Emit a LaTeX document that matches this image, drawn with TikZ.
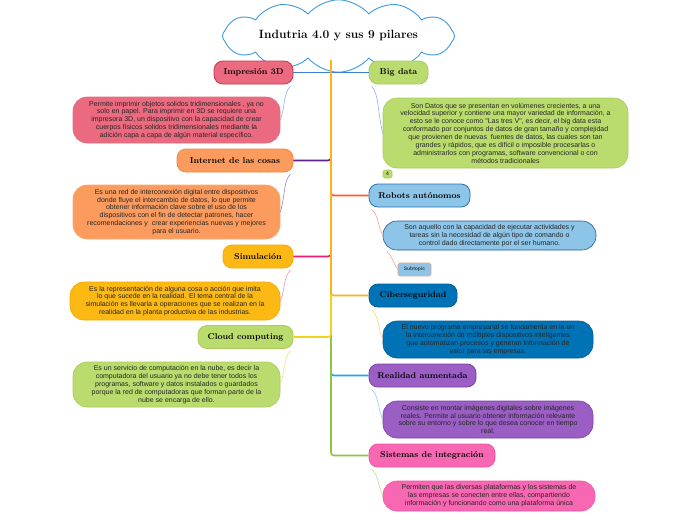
\documentclass[tikz,border=0pt]{standalone}
\usepackage{fontspec}
\newfontfamily\descfont{Liberation Sans}
\usetikzlibrary{shapes.symbols,calc}

\definecolor{impF}{HTML}{EC6A80}\definecolor{impD}{HTML}{C8374F}
\definecolor{iotF}{HTML}{FB9C5E}\definecolor{iotD}{HTML}{F5883A}
\definecolor{simF}{HTML}{FDB913}\definecolor{simD}{HTML}{F2A900}
\definecolor{cldF}{HTML}{BADC6E}\definecolor{cldD}{HTML}{A9CC5C}
\definecolor{robF}{HTML}{8CC5E8}\definecolor{robD}{HTML}{2C74B0}
\definecolor{cibF}{HTML}{0073B6}\definecolor{cibD}{HTML}{005C99}
\definecolor{reaF}{HTML}{9B5EC4}\definecolor{reaD}{HTML}{7B41A3}
\definecolor{sisF}{HTML}{F767B2}\definecolor{sisD}{HTML}{EE55A4}
\definecolor{cloudC}{HTML}{3D9BE0}

\definecolor{bBlue}{HTML}{3B7DD8}\definecolor{bPurple}{HTML}{5E2288}
\definecolor{bRed}{HTML}{FF5A26}\definecolor{bPink}{HTML}{EE1B72}
\definecolor{bAmber}{HTML}{FBB317}\definecolor{bYellow}{HTML}{F3D21E}
\definecolor{bSky}{HTML}{21A8E3}\definecolor{bGreen}{HTML}{8DC63F}

\definecolor{tBlue}{HTML}{8DB6EA}\definecolor{tPurple}{HTML}{A283C2}
\definecolor{tPink}{HTML}{F590BB}\definecolor{tYellow}{HTML}{F2E27C}
\definecolor{tSalmon}{HTML}{F6A58E}\definecolor{tAmber}{HTML}{F8D77E}
\definecolor{tSky}{HTML}{86D3F2}\definecolor{tGreen}{HTML}{BFDD88}

\tikzset{
  topic/.style={draw, line width=0.8pt, rounded corners=9pt, minimum height=23pt,
    inner sep=0pt, font=\fontsize{8.5}{10}\selectfont\bfseries, text=black},
  desc/.style={draw, line width=0.6pt, rounded corners=14pt, inner sep=0pt,
    align=center, font=\descfont\fontsize{7}{7.85}\selectfont, text=black!85},
  branch/.style={line width=1.6pt, rounded corners=3pt},
  thinlink/.style={line width=0.6pt},
  tag/.style={draw, line width=0.6pt, rounded corners=1.5pt, inner sep=0pt}
}

\begin{document}
\begin{tikzpicture}[x=1pt,y=-1pt]
\useasboundingbox[fill=white] (0,0) rectangle (696,520);

% root
\node[cloud, draw=cloudC, fill=white, line width=0.9pt, cloud puffs=12,
  cloud puff arc=100, aspect=4.8, minimum width=232pt, minimum height=46pt,
  inner sep=0pt, font=\fontsize{12}{14}\selectfont\bfseries] (root) at (338.5,36)
  {Indutria 4.0 y sus 9 pilares};
\coordinate (trunk) at (331,60);

% left topics
\node[topic, fill=impF, draw=impD, minimum width=79pt] (imp) at (253.5,72.5) {Impresión 3D};
\node[topic, fill=iotF, draw=iotD, minimum width=116pt] (iot) at (235,160.5) {Internet de las cosas};
\node[topic, fill=simF, draw=simD, minimum width=70pt] (sim) at (258,256.5) {Simulación};
\node[topic, fill=cldF, draw=cldD, minimum width=95pt] (cld) at (245.5,337) {Cloud computing};

% right topics
\node[topic, fill=cldF, draw=cldD, minimum width=59pt] (big) at (398.5,72.5) {Big data};
\node[topic, fill=robF, draw=robD, minimum width=101pt] (rob) at (419.5,195.5) {Robots autónomos};
\node[topic, fill=cibF, draw=cibD, minimum width=88pt] (cib) at (413,295.5) {Ciberseguridad};
\node[topic, fill=reaF, draw=reaD, minimum width=107pt] (rea) at (422.5,375.5) {Realidad aumentada};
\node[topic, fill=sisF, draw=sisD, minimum width=126pt] (sis) at (432,455.5) {Sistemas de integración};

% descriptions left
\node[desc, fill=impF, draw=impD!70, minimum width=207pt, minimum height=46pt] (impd) at (176.5,120)
{Permite imprimir objetos solidos tridimensionales , ya no\\
solo en papel. Para imprimir en 3D se requiere una\\
impresora 3D, un dispositivo con la capacidad de crear\\
cuerpos físicos solidos tridimensionales mediante la\\
adición capa a capa de algún material específico.};
\node[desc, fill=iotF, draw=iotD!70, minimum width=207pt, minimum height=54pt] (iotd) at (176.5,212)
{Es una red de interconexión digital entre dispositivos\\
donde fluye el intercambio de datos, lo que permite\\
obtener información clave sobre el uso de los\\
dispositivos con el fin de detectar patrones, hacer\\
recomendaciones y\ \ crear experiencias nuevas y mejores\\
para el usuario.};
\node[desc, fill=simF, draw=simD, minimum width=210pt, minimum height=38pt] (simd) at (175,301)
{Es la representación de alguna cosa o acción que imita\\
lo que sucede en la realidad. El tema central de la\\
simulación es llevarla a operaciones que se realizan en la\\
realidad en la planta productiva de las industrias.};
\node[desc, fill=cldF, draw=cldD, minimum width=207pt, minimum height=45pt] (cldd) at (176.5,384.5)
{Es un servicio de computación en la nube, es decir la\\
computadora del usuario ya no debe tener todos los\\
programas, software y datos instalados o guardados\\
porque la red de computadoras que forman parte de la\\
nube se encarga de ello.};

% descriptions right
\node[desc, fill=cldF, draw=cldD, minimum width=245pt, minimum height=70pt] (bigd) at (505.5,133)
{Son Datos que se presentan en volúmenes crecientes, a una\\
velocidad superior y contiene una mayor variedad de información, a\\
esto se le conoce como "Las tres V", es decir, el big data esta\\
conformado por conjuntos de datos de gran tamaño y complejidad\\
que provienen de nuevas\ \ fuentes de datos, las cuales son tan\\
grandes y rápidos, que es difícil o imposible procesarlas o\\
administrarlos con programas, software convencional o con\\
métodos tradicionales};
\node[tag, fill=cldF, draw=cldD, minimum width=9pt, minimum height=8pt,
  font=\descfont\fontsize{5}{5}\selectfont] (four) at (387.5,174) {4};
\node[desc, fill=robF, draw=robD!80!black, minimum width=213pt, minimum height=29pt] (robd) at (489.5,235.5)
{Son aquello con la capacidad de ejecutar actividades y\\
tareas sin la necesidad de algún tipo de comando o\\
control dado directamente por el ser humano.};
\node[tag, fill=robF, draw=tSalmon, minimum width=33pt, minimum height=13pt,
  font=\descfont\fontsize{5}{5}\selectfont\bfseries, text=black!75] (sub) at (414.5,269.5) {Subtopic};
\node[desc, fill=cibF, draw=cibD, minimum width=210pt, minimum height=37pt] (cibd) at (488,339.5)
{El nuevo programa empresarial se fundamenta en la en\\
la interconexión de múltiples dispositivos inteligentes\\
que automatizan procesos y generan información de\\
valor para las empresas.};
\node[desc, fill=reaF, draw=reaD, minimum width=210pt, minimum height=37pt] (read) at (488,419.5)
{Consiste en montar imágenes digitales sobre imágenes\\
reales. Permite al usuario obtener información relevante\\
sobre su entorno y sobre lo que desea conocer en tiempo\\
real.};
\node[desc, fill=sisF, draw=sisD, minimum width=212pt, minimum height=30pt] (sisd) at (489,496)
{Permiten que las diversas plataformas y los sistemas de\\
las empresas se conecten entre ellas, compartiendo\\
información y funcionando como una plataforma única};

% branches
\draw[branch, bBlue] (imp.east) -- (big.west);
\draw[branch, bBlue] (trunk) -- (trunk |- imp.east);
\draw[branch, bPurple] (trunk) |- (iot.east);
\draw[branch, bPink] (trunk) |- (sim.east);
\draw[branch, bRed] (trunk) |- (rob.west);
\draw[branch, bSky] (trunk) |- (rea.west);
\draw[branch, bGreen] (trunk) |- (sis.west);
\draw[branch, bYellow] (trunk) |- (cld.east);
\draw[branch, bAmber] (trunk) |- (cib.west);

% description links left
\draw[thinlink, tBlue] ($(imp.south east)+(-3,2)$) .. controls +(-7,6) and +(5,-14) .. (impd.east);
\draw[thinlink, tPurple] ($(iot.south east)+(-3,2)$) .. controls +(-7,6) and +(5,-16) .. (iotd.east);
\draw[thinlink, tPink] ($(sim.south east)+(-3,2)$) .. controls +(-7,6) and +(5,-12) .. (simd.east);
\draw[thinlink, tYellow] ($(cld.south east)+(-3,2)$) .. controls +(-7,6) and +(5,-14) .. (cldd.east);
% description links right
\draw[thinlink, tBlue] ($(big.south west)+(3,2)$) .. controls +(7,6) and +(-5,-20) .. (bigd.west);
\draw[thinlink, tSalmon] ($(rob.south west)+(3,2)$) .. controls +(7,6) and +(-5,-10) .. (robd.west);
\draw[thinlink, tSalmon] ($(robd.south west)+(4,1)$) .. controls +(5,4) and +(-5,-8) .. (sub.west);
\draw[thinlink, tAmber] ($(cib.south west)+(3,2)$) .. controls +(7,6) and +(-5,-12) .. (cibd.west);
\draw[thinlink, tSky] ($(rea.south west)+(3,2)$) .. controls +(7,6) and +(-5,-12) .. (read.west);
\draw[thinlink, tGreen] ($(sis.south west)+(3,2)$) .. controls +(7,6) and +(-5,-12) .. (sisd.west);
\end{tikzpicture}
\end{document}
